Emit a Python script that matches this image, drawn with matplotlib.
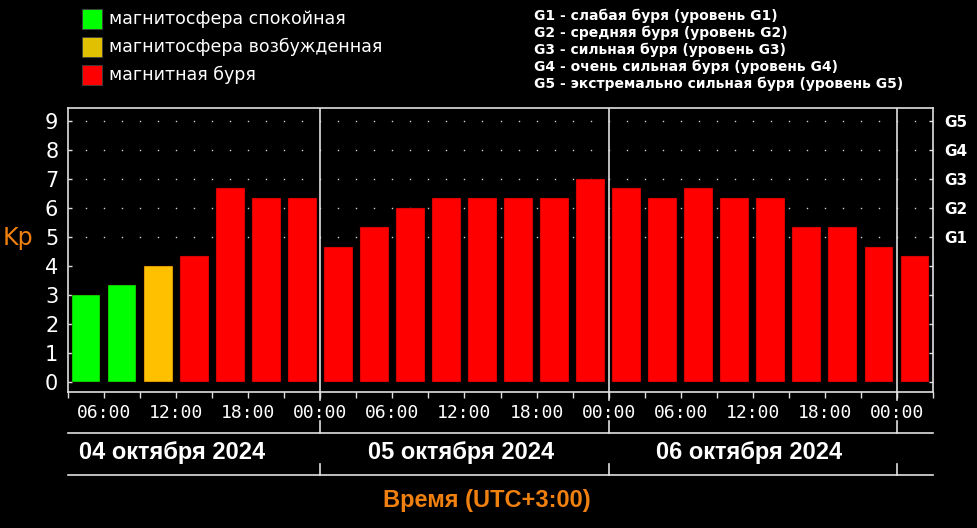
import numpy as np
import matplotlib.pyplot as plt
from matplotlib.patches import Rectangle
from matplotlib.transforms import blended_transform_factory

# Kp index, 3-hour intervals starting 04.10.2024 03:00 (UTC+3)
kp = [3.0, 3.33, 4.0, 4.33, 6.67, 6.33, 6.33,
      4.67, 5.33, 6.0, 6.33, 6.33, 6.33, 6.33, 7.0,
      6.67, 6.33, 6.67, 6.33, 6.33, 5.33, 5.33, 4.67,
      4.33]
start_hour = 3
step_hours = 3
days = ['04 октября 2024', '05 октября 2024', '06 октября 2024']
legend_labels = ['магнитосфера спокойная', 'магнитосфера возбужденная', 'магнитная буря']
g_labels = ['G1', 'G2', 'G3', 'G4', 'G5']
g_notes = ['G1 - слабая буря (уровень G1)',
           'G2 - средняя буря (уровень G2)',
           'G3 - сильная буря (уровень G3)',
           'G4 - очень сильная буря (уровень G4)',
           'G5 - экстремально сильная буря (уровень G5)']

GREEN = '#00ff00'
YELLOW = '#ffc000'
YELLOW_LEG = '#e0c000'
RED = '#ff0000'
ORANGE = '#f08010'
FRAME = '#e0e0e0'

plt.rcParams['font.family'] = ['DejaVu Sans']

fig = plt.figure(figsize=(9.78, 5.28), dpi=100, facecolor='black')
ax = fig.add_axes([68/978, 136/528, 865/978, 284/528])
ax.set_facecolor('black')

n = len(kp)
x = start_hour + step_hours * np.arange(n) + step_hours / 2
end_hour = start_hour + step_hours * n


def bar_color(k):
    if k < 4:
        return GREEN
    if k < 4.3:
        return YELLOW
    return RED


# dotted grid on storm levels
dots_x = np.arange(start_hour + 1.5, end_hour, 1.5)
for lvl in range(5, 10):
    ax.plot(dots_x, [lvl] * len(dots_x), 's', ms=1.0, color='#d0d0d0', mec='none', zorder=1)

ax.bar(x, kp, width=step_hours * 0.8, color=[bar_color(k) for k in kp],
       edgecolor='#400000', linewidth=0.3, zorder=2)

ax.set_xlim(start_hour, end_hour)
ax.set_ylim(-0.33, 9.43)

for s in ax.spines.values():
    s.set_color(FRAME)
    s.set_linewidth(1.2)

ticks = np.arange(start_hour, end_hour + 1, step_hours)
ax.set_xticks(ticks)
ax.set_xticklabels(['%02d:00' % (t % 24) if t % 6 == 0 else '' for t in ticks],
                   fontfamily='DejaVu Sans Mono', fontsize=13, color='white')
ax.tick_params(axis='x', direction='out', length=4, width=1, color=FRAME, pad=5)

ax.set_yticks(range(10))
ax.set_yticklabels([str(i) for i in range(10)], fontsize=15, color='white')
ax.tick_params(axis='y', direction='in', length=3, width=1, color=FRAME, pad=7)

ax2 = ax.twinx()
ax2.set_ylim(ax.get_ylim())
ax2.set_yticks(range(10))
ax2.set_yticklabels([''] * 5 + g_labels, fontsize=11, fontweight='bold', color='white')
ax2.tick_params(axis='y', direction='in', length=3, width=1, color=FRAME, pad=8)
for s in ax2.spines.values():
    s.set_visible(False)

# day separators and date band
tr = blended_transform_factory(ax.transData, ax.transAxes)
for d in range(1, len(days) + 1):
    h = 24 * d
    ax.axvline(h, color=FRAME, lw=1.2, zorder=3)
    for y0, y1 in [(0, -0.028), (-0.102, -0.144), (-0.254, -0.292)]:
        ax.plot([h, h], [y0, y1], color=FRAME, lw=1.2, transform=tr, clip_on=False)
for yb in [-0.144, -0.292]:
    ax.plot([0, 1], [yb, yb], color=FRAME, lw=1.2, transform=ax.transAxes, clip_on=False)
for i, day in enumerate(days):
    ax.text(24 * i + 11.7, -0.212, day, transform=tr, ha='center', va='center',
            fontsize=17, fontweight='bold', fontfamily='Liberation Sans', color='white')

fig.text(487/978, 1 - 500/528, 'Время (UTC+3:00)', ha='center', va='center',
         fontsize=17, fontweight='bold', fontfamily='Liberation Sans', color=ORANGE)
fig.text(3/978, 1 - 238/528, 'Kp', ha='left', va='center', fontsize=17, color=ORANGE)

# legend
for i, (lab, col) in enumerate(zip(legend_labels, [GREEN, YELLOW_LEG, RED])):
    yc = 19 + 28 * i
    fig.patches.append(Rectangle((82/978, 1 - (yc + 10)/528), 20/978, 20/528,
                                 transform=fig.transFigure, facecolor=col,
                                 edgecolor='#404040', lw=0.6))
    fig.text(109/978, 1 - yc/528, lab, ha='left', va='center', fontsize=12.5, color='white')

for i, note in enumerate(g_notes):
    fig.text(534/978, 1 - (16 + 17 * i)/528, note, ha='left', va='center',
             fontsize=10, fontweight='bold', color='white')

fig.savefig('out.png', dpi=100, facecolor='black')
